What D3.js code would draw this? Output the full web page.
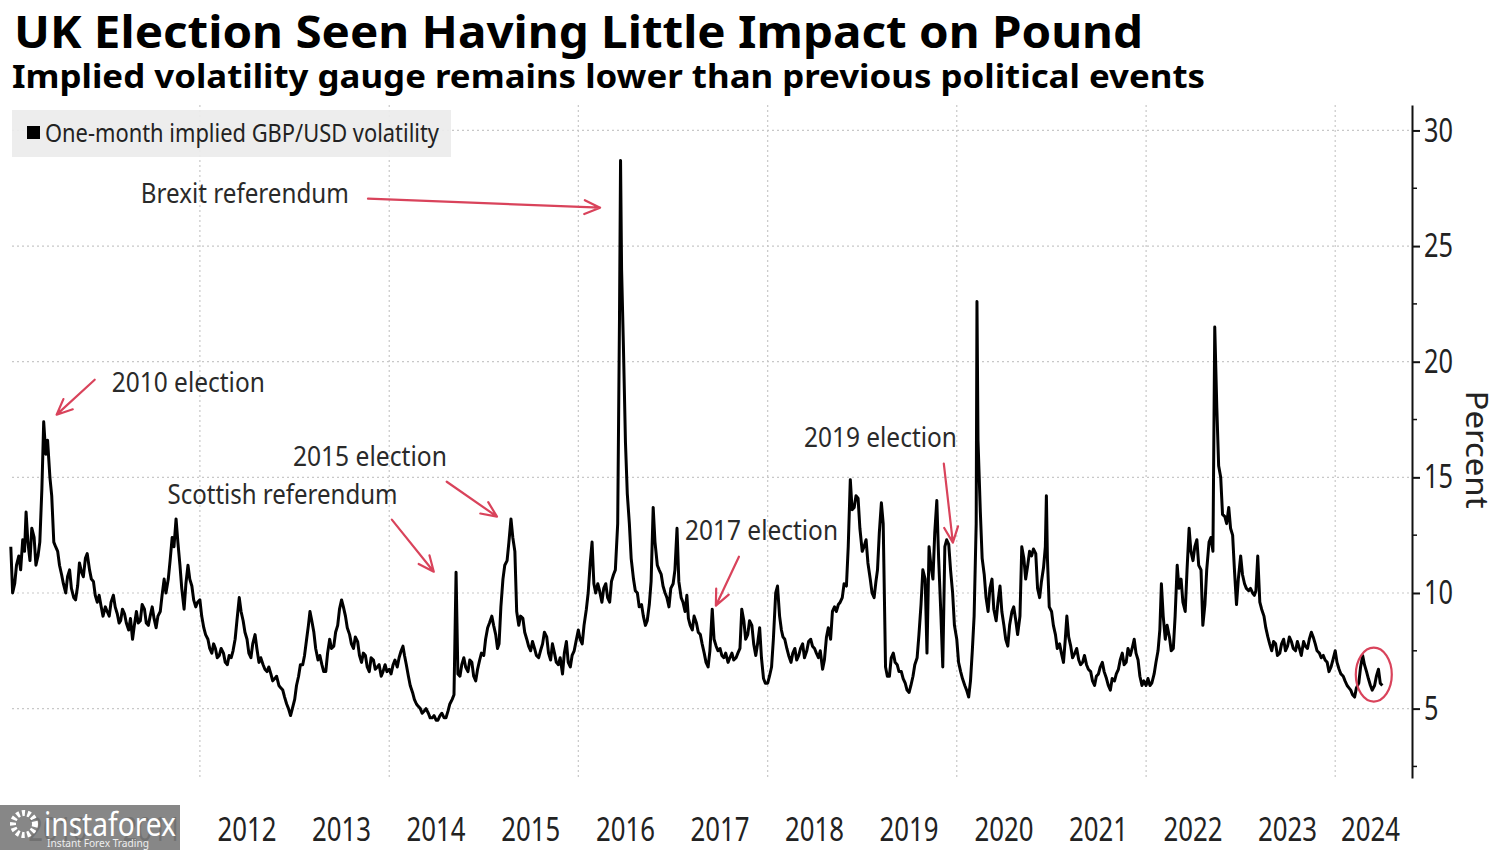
<!DOCTYPE html>
<html>
<head>
<meta charset="utf-8">
<script src="https://cdn.jsdelivr.net/npm/d3@7"></script>
<style>
  body { margin: 0; background: #fff; }
  text { font-family: "Noto Sans", "Open Sans", sans-serif; }
</style>
</head>
<body>
<svg id="chart" width="1500" height="850"></svg>
<script>
// one-month implied GBP/USD vol: values on the 1st, 8th, 16th and 23rd of each month
const vol2010 = [12.0, 10.0, 10.4, 11.2, 11.6, 11.0, 12.3, 11.8, 13.5, 12.2, 11.4, 12.8, 12.4, 11.2, 11.6, 12.2, 14.5, 17.4, 16.0, 16.6, 15.0, 14.2, 12.2, 12.0, 11.8, 11.2, 10.8, 10.4, 10.0, 10.7, 11.0, 10.2, 9.8, 9.7, 10.3, 11.3, 10.9, 10.7, 11.5, 11.7, 11.0, 10.6, 10.5, 9.9, 9.6, 9.9, 9.4, 9.0];
const vol2011 = [9.4, 9.2, 9.0, 9.6, 9.9, 9.4, 9.1, 8.7, 8.8, 9.3, 9.1, 8.7, 8.4, 8.9, 8.0, 8.6, 9.2, 8.7, 8.8, 9.5, 9.3, 8.7, 8.6, 9.0, 9.4, 8.9, 8.5, 9.0, 9.2, 9.9, 10.6, 10.0, 10.6, 11.4, 12.4, 12.0, 13.2, 12.2, 11.2, 10.2, 9.3, 10.4, 11.2, 10.6, 10.3, 9.7, 9.4, 9.6];
const vol2012 = [9.7, 9.0, 8.5, 8.2, 8.0, 7.6, 7.4, 7.8, 7.6, 7.2, 7.3, 7.6, 7.4, 7.0, 6.9, 7.3, 7.2, 7.5, 8.0, 8.8, 9.8, 9.2, 8.8, 8.3, 8.0, 7.4, 7.2, 7.8, 8.2, 7.6, 7.0, 7.2, 6.9, 6.7, 6.6, 6.8, 6.5, 6.2, 6.3, 6.4, 6.0, 5.9, 5.8, 5.5, 5.2, 5.0, 4.7, 5.0];
const vol2013 = [5.4, 6.0, 6.4, 6.9, 6.9, 7.3, 8.0, 8.6, 9.2, 8.8, 8.3, 7.6, 7.1, 7.3, 6.9, 6.6, 6.6, 7.4, 8.0, 7.6, 7.7, 8.3, 8.6, 9.3, 9.7, 9.4, 9.0, 8.5, 8.2, 7.8, 7.6, 8.1, 7.9, 7.3, 7.0, 7.4, 7.3, 6.8, 6.6, 7.2, 7.1, 6.7, 6.8, 6.9, 6.4, 6.6, 6.9, 6.6];
const vol2014 = [6.7, 6.5, 6.9, 7.1, 6.8, 7.2, 7.5, 7.7, 7.3, 6.9, 6.4, 6.0, 5.7, 5.4, 5.2, 5.1, 5.0, 4.8, 4.9, 5.0, 4.8, 4.6, 4.6, 4.7, 4.5, 4.5, 4.7, 4.8, 4.6, 4.6, 4.9, 5.2, 5.4, 5.6, 10.9, 6.5, 6.4, 6.9, 7.2, 6.8, 6.6, 7.1, 7.0, 6.4, 6.2, 6.7, 7.1, 7.4];
const vol2015 = [7.3, 8.0, 8.5, 8.7, 9.0, 8.6, 8.2, 7.6, 7.8, 9.4, 10.6, 11.2, 11.4, 12.2, 13.2, 12.4, 11.8, 9.2, 8.6, 9.0, 8.9, 8.3, 8.0, 7.7, 7.5, 7.9, 7.6, 7.3, 7.2, 7.5, 7.8, 8.3, 8.1, 7.4, 7.1, 7.8, 7.4, 7.0, 6.9, 7.2, 6.5, 7.4, 7.9, 7.0, 6.8, 7.3, 7.5, 7.9];
const vol2016 = [8.4, 8.0, 7.8, 8.6, 9.3, 10.0, 11.3, 12.2, 10.4, 10.0, 10.4, 10.1, 9.6, 10.2, 10.4, 9.8, 9.6, 10.5, 10.8, 11.0, 13.0, 22.0, 24.0, 20.7, 16.5, 14.3, 13.0, 11.5, 10.6, 10.1, 10.0, 9.4, 9.5, 9.0, 8.6, 8.8, 9.5, 10.5, 13.7, 12.2, 11.2, 11.0, 10.8, 10.3, 10.0, 9.8, 9.4, 10.2];
const vol2017 = [10.4, 11.0, 12.8, 10.5, 9.8, 9.6, 9.2, 9.9, 8.9, 8.6, 8.4, 9.0, 8.7, 8.3, 8.2, 7.8, 7.4, 7.0, 6.8, 7.5, 9.3, 8.0, 7.7, 7.5, 7.6, 7.3, 7.2, 7.4, 7.0, 7.2, 7.4, 7.1, 7.2, 7.4, 7.6, 9.3, 8.8, 8.0, 8.2, 8.8, 8.6, 7.8, 7.3, 7.8, 8.5, 7.2, 6.3, 6.1];
const vol2018 = [6.1, 6.4, 6.8, 8.0, 10.0, 10.3, 9.0, 8.4, 8.1, 8.0, 7.6, 7.3, 7.0, 7.4, 7.6, 7.1, 7.3, 7.6, 7.8, 7.2, 7.5, 7.9, 8.0, 7.7, 7.6, 7.4, 7.2, 7.5, 6.7, 7.1, 8.1, 8.5, 8.0, 9.2, 9.4, 9.2, 9.5, 9.6, 9.8, 10.4, 10.3, 12.0, 14.9, 13.6, 13.7, 14.2, 14.1, 12.8];
const vol2019 = [11.8, 12.0, 12.3, 11.3, 10.6, 10.0, 9.8, 10.5, 11.0, 12.6, 13.9, 13.0, 6.8, 6.4, 6.4, 7.2, 7.4, 7.0, 6.9, 6.6, 6.6, 6.3, 6.1, 5.8, 5.7, 6.0, 6.4, 6.9, 7.2, 8.2, 9.5, 11.0, 10.6, 7.4, 12.0, 11.2, 10.6, 12.6, 14.0, 11.5, 9.0, 6.8, 12.0, 12.3, 12.1, 11.0, 10.0, 8.6];
const vol2020 = [8.0, 7.0, 6.6, 6.3, 6.0, 5.8, 5.5, 6.2, 7.5, 9.0, 13.0, 16.6, 13.5, 11.5, 10.8, 9.8, 9.2, 10.2, 10.6, 9.3, 8.8, 9.6, 10.3, 9.2, 8.6, 8.0, 7.7, 8.6, 9.2, 9.4, 8.8, 8.2, 9.0, 12.0, 11.5, 10.6, 11.2, 11.8, 11.6, 11.9, 11.7, 10.2, 9.8, 10.5, 11.1, 12.0, 11.5, 9.4];
const vol2021 = [9.2, 8.6, 8.2, 7.6, 7.8, 7.4, 7.0, 8.0, 9.0, 8.1, 7.7, 7.2, 7.4, 7.6, 7.1, 6.9, 7.0, 7.3, 6.9, 6.7, 6.6, 6.2, 6.0, 6.4, 6.5, 6.8, 7.0, 6.6, 6.3, 6.0, 5.8, 6.3, 6.2, 6.5, 6.7, 7.1, 7.4, 6.9, 7.0, 7.6, 7.3, 7.6, 8.0, 7.4, 7.1, 6.4, 6.0, 6.2];
const vol2022 = [6.0, 6.3, 6.0, 6.1, 6.5, 7.0, 7.5, 8.4, 10.4, 9.0, 8.0, 8.6, 8.1, 7.5, 7.6, 9.0, 11.2, 10.2, 10.6, 9.6, 9.2, 11.0, 12.8, 11.8, 11.4, 12.0, 12.3, 11.2, 11.0, 8.6, 9.5, 11.0, 12.2, 12.4, 11.8, 21.5, 18.0, 15.5, 15.0, 13.4, 13.3, 13.0, 13.7, 12.8, 12.5, 11.0, 9.5, 10.6];
const vol2023 = [11.6, 10.8, 10.4, 10.2, 10.1, 10.2, 10.0, 9.9, 10.1, 11.6, 9.6, 9.3, 9.0, 8.5, 8.1, 7.8, 7.5, 7.9, 7.8, 7.3, 7.4, 7.8, 8.0, 7.5, 7.7, 8.1, 7.9, 7.6, 7.5, 7.9, 7.6, 7.3, 7.9, 7.7, 7.6, 8.0, 8.3, 8.1, 7.8, 7.5, 7.4, 7.2, 7.3, 7.1, 7.0, 6.6, 6.8, 7.1];
const vol2024 = [7.5, 7.0, 6.7, 6.5, 6.4, 6.2, 6.0, 5.9, 5.8, 5.6, 5.5, 5.9, 6.1, 6.8, 7.3, 6.9, 6.6, 6.3, 6.0, 5.8, 6.0, 6.4, 6.7, 6.1, 6.0];

// the sharpest peaks, between the weekly points
const extraPoints = [["2016-06-12", 28.7], ["2020-03-19", 22.6], ["2020-12-12", 14.2]];

const years = [2010, 2011, 2012, 2013, 2014, 2015, 2016, 2017, 2018, 2019, 2020, 2021, 2022, 2023, 2024];
const yearSeries = [vol2010, vol2011, vol2012, vol2013, vol2014, vol2015, vol2016, vol2017, vol2018, vol2019, vol2020, vol2021, vol2022, vol2023, vol2024];
const pointDays = [1, 8, 16, 23];
const gridYears = [2012, 2014, 2016, 2018, 2020, 2022, 2024];
const yTicks = [5, 10, 15, 20, 25, 30];
const yMinorTicks = [2.5, 7.5, 12.5, 17.5, 22.5, 27.5];

// annotations: label, arrow tail and tip, label anchor (all in date / percent)
const annotations = [
  { label: "Brexit referendum", anchor: "end", at: ["2013-07-29", 26.88], tail: ["2013-10-11", 27.05], tip: ["2016-03-25", 26.66] },
  { label: "2010 election", anchor: "start", at: ["2011-01-26", 18.70], tail: ["2010-11-21", 19.22], tip: ["2010-06-27", 17.71] },
  { label: "2015 election", anchor: "start", at: ["2012-12-25", 15.51], tail: ["2014-08-11", 14.81], tip: ["2015-02-21", 13.30] },
  { label: "Scottish referendum", anchor: "start", at: ["2011-08-29", 13.86], tail: ["2014-01-11", 13.17], tip: ["2014-06-22", 10.92] },
  { label: "2017 election", anchor: "start", at: ["2017-02-16", 12.31], tail: ["2017-09-12", 11.57], tip: ["2017-06-15", 9.45] },
  { label: "2019 election", anchor: "start", at: ["2018-05-21", 16.33], tail: ["2019-11-12", 15.59], tip: ["2019-12-17", 12.18] }
];
const circled = ["2024-05-29", 6.47];

const parse = d3.timeParse("%Y-%m-%d");
const red = "#d9435b";

// build the series
let series = [];
yearSeries.forEach((vals, k) => {
  vals.forEach((v, i) => series.push({ date: new Date(years[k], Math.floor(i / 4), pointDays[i % 4]), v: v }));
});
extraPoints.forEach(p => series.push({ date: parse(p[0]), v: p[1] }));
series.sort((a, b) => a.date - b.date);

const svg = d3.select("#chart");

const x = d3.scaleTime()
  .domain([new Date(2010, 0, 1), new Date(2024, 0, 1)])
  .range([10.8, 1335.2]);
const y = d3.scaleLinear().domain([2, 31.1]).range([778, 105]);
const axisX = 1412;

// gridlines
const grid = svg.append("g").attr("stroke", "#c8c8c8").attr("stroke-width", 1.2).attr("stroke-dasharray", "2,3");
grid.selectAll(".hg").data(yTicks).join("line")
  .attr("x1", 12).attr("x2", axisX)
  .attr("y1", d => y(d)).attr("y2", d => y(d));
grid.selectAll(".vg").data(gridYears).join("line")
  .attr("x1", d => x(new Date(d, 0, 1))).attr("x2", d => x(new Date(d, 0, 1)))
  .attr("y1", y(31.1)).attr("y2", y(2));

// legend
svg.append("rect").attr("x", 12).attr("y", 110).attr("width", 439).attr("height", 47).attr("fill", "#ebebeb").attr("opacity", 0.92);
svg.append("rect").attr("x", 27).attr("y", 126).attr("width", 13).attr("height", 13).attr("fill", "#000");
svg.append("text").attr("x", 45).attr("y", 142).attr("font-size", 25).attr("fill", "#222")
  .attr("textLength", 394).attr("lengthAdjust", "spacingAndGlyphs")
  .text("One-month implied GBP/USD volatility");

// line
svg.append("path").datum(series)
  .attr("fill", "none").attr("stroke", "#000").attr("stroke-width", 3)
  .attr("stroke-linejoin", "round")
  .attr("d", d3.line().x(d => x(d.date)).y(d => y(d.v)));

// right axis
const yAxis = svg.append("g").attr("transform", `translate(${axisX},0)`)
  .call(d3.axisRight(y).tickValues(yTicks).tickSize(8).tickSizeOuter(0).tickPadding(4));
yAxis.select(".domain").attr("stroke", "#111").attr("stroke-width", 2);
yAxis.selectAll(".tick line").attr("stroke", "#111").attr("stroke-width", 2);
yAxis.selectAll(".tick text")
  .attr("font-size", 33).attr("fill", "#222")
  .attr("font-family", "'Liberation Sans Narrow','Liberation Sans',sans-serif")
  .attr("textLength", d => String(d).length * 14.5).attr("lengthAdjust", "spacingAndGlyphs");
yAxis.selectAll(".minor").data(yMinorTicks).join("line")
  .attr("x1", 0).attr("x2", 5)
  .attr("y1", d => y(d)).attr("y2", d => y(d))
  .attr("stroke", "#111").attr("stroke-width", 1.5);

svg.append("text")
  .attr("transform", `translate(1478,${y(16.2)}) rotate(90)`)
  .attr("text-anchor", "middle").attr("dominant-baseline", "central")
  .attr("font-size", 31).attr("fill", "#222")
  .attr("textLength", 118).attr("lengthAdjust", "spacingAndGlyphs")
  .text("Percent");

// year labels
svg.append("g").selectAll("text").data(years).join("text")
  .attr("x", d => Math.min(x(new Date(d, 6, 1)), axisX - 12 - 29.5))
  .attr("y", 841)
  .attr("text-anchor", "middle")
  .attr("font-size", 32).attr("fill", "#222")
  .attr("font-family", "'Liberation Sans Narrow','Liberation Sans',sans-serif")
  .attr("textLength", 59).attr("lengthAdjust", "spacingAndGlyphs")
  .text(d => d);

// annotations
const labelWidths = { "Brexit referendum": 208, "2010 election": 153, "2015 election": 154, "Scottish referendum": 230, "2017 election": 153, "2019 election": 153 };
const ann = svg.append("g");
annotations.forEach(a => {
  ann.append("text")
    .attr("x", x(parse(a.at[0]))).attr("y", y(a.at[1]))
    .attr("text-anchor", a.anchor)
    .attr("font-size", 27).attr("fill", "#2a2a2a")
    .attr("textLength", labelWidths[a.label]).attr("lengthAdjust", "spacingAndGlyphs")
    .text(a.label);
  const x1 = x(parse(a.tail[0])), y1 = y(a.tail[1]);
  const x2 = x(parse(a.tip[0])), y2 = y(a.tip[1]);
  const ang = Math.atan2(y2 - y1, x2 - x1), len = 17, spread = 0.42;
  ann.append("path")
    .attr("d", `M${x1},${y1}L${x2},${y2}` +
      `M${x2 - len * Math.cos(ang - spread)},${y2 - len * Math.sin(ang - spread)}L${x2},${y2}` +
      `L${x2 - len * Math.cos(ang + spread)},${y2 - len * Math.sin(ang + spread)}`)
    .attr("fill", "none").attr("stroke", red).attr("stroke-width", 2.2)
    .attr("stroke-linecap", "round").attr("stroke-linejoin", "round");
});
ann.append("ellipse")
  .attr("cx", x(parse(circled[0]))).attr("cy", y(circled[1]))
  .attr("rx", 18).attr("ry", 27)
  .attr("fill", "none").attr("stroke", red).attr("stroke-width", 2.2);

// titles
svg.append("text").attr("x", 14).attr("y", 48)
  .attr("font-family", "'DejaVu Sans',sans-serif").attr("font-weight", "bold")
  .attr("font-size", 45).attr("fill", "#000")
  .attr("textLength", 1129).attr("lengthAdjust", "spacingAndGlyphs")
  .text("UK Election Seen Having Little Impact on Pound");
svg.append("text").attr("x", 12).attr("y", 88)
  .attr("font-family", "'DejaVu Sans',sans-serif").attr("font-weight", "bold")
  .attr("font-size", 32).attr("fill", "#000")
  .attr("textLength", 1193).attr("lengthAdjust", "spacingAndGlyphs")
  .text("Implied volatility gauge remains lower than previous political events");

// watermark box in the bottom-left corner
const wm = svg.append("g");
wm.append("rect").attr("x", 0).attr("y", 805).attr("width", 180).attr("height", 45).attr("fill", "#7a7a7a").attr("opacity", 0.9);
wm.append("circle").attr("cx", 24).attr("cy", 824).attr("r", 11)
  .attr("fill", "none").attr("stroke", "#fff").attr("stroke-width", 6).attr("stroke-dasharray", "3,2.5");
wm.append("text").attr("x", 44).attr("y", 836).attr("font-size", 32).attr("fill", "#fff")
  .attr("font-family", "'Liberation Sans Narrow','Liberation Sans',sans-serif")
  .attr("textLength", 132).attr("lengthAdjust", "spacingAndGlyphs").text("instaforex");
wm.append("text").attr("x", 47).attr("y", 847).attr("font-size", 11).attr("fill", "#eee")
  .attr("textLength", 102).attr("lengthAdjust", "spacingAndGlyphs").text("Instant Forex Trading");
</script>
</body>
</html>
